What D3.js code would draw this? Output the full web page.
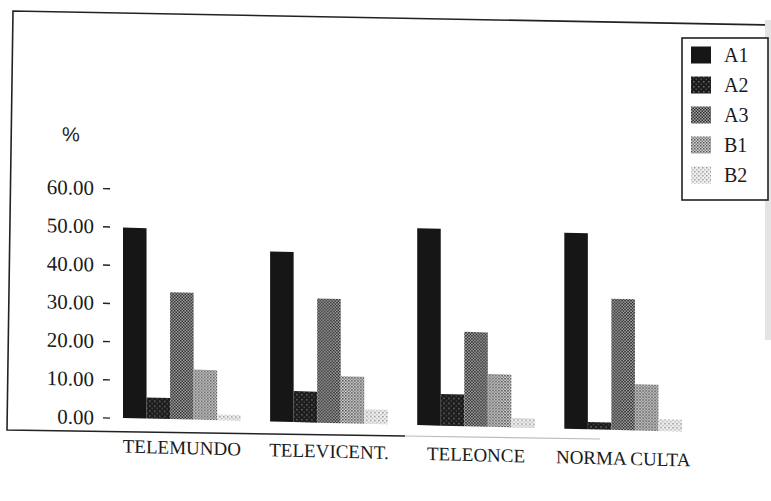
<!DOCTYPE html>
<html>
<head>
<meta charset="utf-8">
<script src="https://cdn.jsdelivr.net/npm/d3@7"></script>
<style>
  html, body { margin: 0; padding: 0; background: #fff; }
  svg { display: block; }
</style>
</head>
<body>
<div id="chart"></div>
<script>
// categories & series
const categories = ['TELEMUNDO', 'TELEVICENT.', 'TELEONCE', 'NORMA CULTA'];
const seriesNames = ['A1', 'A2', 'A3', 'B1', 'B2'];

// % values per series, one per category
const A1 = [49.8, 44.5, 51.5, 51.3];
const A2 = [5.5, 8.1, 8.3, 1.9];
const A3 = [33.2, 32.5, 24.7, 34.3];
const B1 = [13.1, 12.3, 13.8, 12.1];
const B2 = [1.5, 3.8, 2.5, 3.1];

const yTicks = [0, 10, 20, 30, 40, 50, 60];

const W = 771, H = 501;
const values = { A1, A2, A3, B1, B2 };
const data = categories.map((c, i) => ({
  cat: c,
  vals: seriesNames.map((s) => ({ key: s, value: values[s][i] }))
}));

const svg = d3.select('#chart').append('svg')
  .attr('width', W).attr('height', H)
  .attr('viewBox', [0, 0, W, H]);

// halftone-ish fills, like the printed original
const defs = svg.append('defs');
function dither(id, size, bg, dots) {
  const p = defs.append('pattern')
    .attr('id', id).attr('patternUnits', 'userSpaceOnUse')
    .attr('width', size).attr('height', size);
  p.append('rect').attr('width', size).attr('height', size).attr('fill', bg);
  dots.forEach(([x, y, c]) =>
    p.append('rect').attr('x', x).attr('y', y).attr('width', 1.5).attr('height', 1.5).attr('fill', c));
}
dither('pA2', 5, '#1c1c1c', [[1, 1, '#6a6a6a'], [3.5, 3.5, '#4a4a4a']]);
dither('pA3', 3, '#a9a9a9', [[0, 0, '#2a2a2a'], [1.5, 1.5, '#2a2a2a']]);
dither('pB1', 3, '#d2d2d2', [[0, 0, '#555'], [1.5, 1.5, '#7a7a7a']]);
dither('pB2', 4, '#eeeeee', [[0, 0, '#9a9a9a'], [2, 2, '#b5b5b5']]);

const fills = { A1: '#161616', A2: 'url(#pA2)', A3: 'url(#pA3)', B1: 'url(#pB1)', B2: 'url(#pB2)' };

// frame (scan is a bit skewed)
svg.append('path')
  .attr('d', 'M771,25 L13,11 L7,430 L405,436')
  .attr('fill', 'none').attr('stroke', '#222').attr('stroke-width', 1.6);
svg.append('path')
  .attr('d', 'M405,436 L600,439')
  .attr('fill', 'none').attr('stroke', '#bbb').attr('stroke-width', 1.2);
svg.append('rect')
  .attr('x', 765).attr('y', 20).attr('width', 6).attr('height', 320)
  .attr('fill', '#e4e4e4');

// chart body, sheared like the scan
const g = svg.append('g')
  .attr('transform', 'translate(385,0) skewY(1.4) translate(-385,0)');

const y = d3.scaleLinear().domain([0, 60]).range([424.3, 195]);

const x0 = d3.scaleBand()
  .domain(categories)
  .range([123, 682])
  .paddingInner(0.2)
  .paddingOuter(0);

const x1 = d3.scaleBand()
  .domain(seriesNames)
  .range([0, x0.bandwidth()])
  .padding(0);

// y axis: ticks only, no domain line
g.append('g')
  .attr('transform', 'translate(110,0)')
  .call(d3.axisLeft(y).tickValues(yTicks).tickFormat(d3.format('.2f')).tickSize(7).tickPadding(9))
  .call((a) => a.select('.domain').remove())
  .call((a) => a.selectAll('line').attr('stroke', '#222').attr('stroke-width', 1.4))
  .call((a) => a.selectAll('text')
    .attr('fill', '#1a1a1a')
    .style('font-family', '"Liberation Serif", serif')
    .style('font-size', '21px'));

g.append('text')
  .attr('x', 62).attr('y', 149)
  .style('font-family', '"Liberation Sans", sans-serif')
  .style('font-size', '20px')
  .attr('fill', '#222')
  .text('%');

// bars
g.append('g').attr('class', 'bars')
  .selectAll('g')
  .data(data)
  .join('g')
  .attr('transform', (d) => `translate(${x0(d.cat)},0)`)
  .selectAll('rect')
  .data((d) => d.vals)
  .join('rect')
  .attr('x', (d) => x1(d.key))
  .attr('y', (d) => y(d.value))
  .attr('width', x1.bandwidth())
  .attr('height', (d) => y(0) - y(d.value))
  .attr('fill', (d) => fills[d.key]);

// category labels
g.append('g')
  .selectAll('text')
  .data(categories)
  .join('text')
  .attr('x', (d) => x0(d) + x0.bandwidth() / 2)
  .attr('y', 459)
  .attr('text-anchor', 'middle')
  .attr('fill', '#1a1a1a')
  .style('font-family', '"Liberation Serif", serif')
  .style('font-size', '19px')
  .text((d) => d);

// legend
const lg = svg.append('g').attr('transform', 'translate(682,38)');
lg.append('rect')
  .attr('width', 86).attr('height', 162)
  .attr('fill', '#fff').attr('stroke', '#222').attr('stroke-width', 1.6);
const row = lg.selectAll('g.row')
  .data(seriesNames)
  .join('g')
  .attr('class', 'row')
  .attr('transform', (d, i) => `translate(0,${17 + i * 30})`);
row.append('rect')
  .attr('x', 9).attr('y', -8.5)
  .attr('width', 20).attr('height', 17)
  .attr('fill', (d) => fills[d]);
row.append('text')
  .attr('x', 42).attr('y', 7)
  .attr('fill', '#1a1a1a')
  .style('font-family', '"Liberation Serif", serif')
  .style('font-size', '20px')
  .text((d) => d);
</script>
</body>
</html>
